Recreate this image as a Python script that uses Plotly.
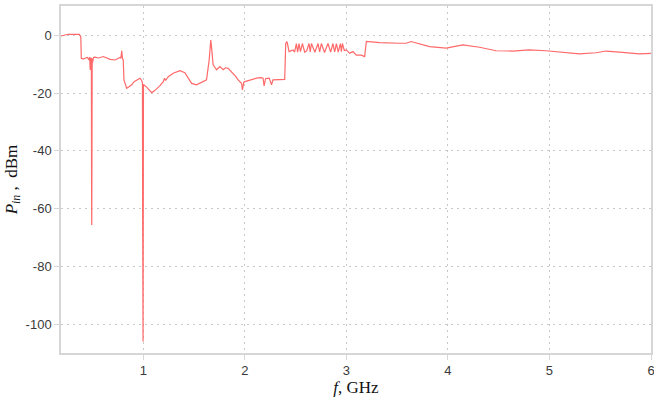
import plotly.graph_objects as go

freq_ghz = [
    0.19, 0.26, 0.37, 0.385, 0.39, 0.41, 0.43, 0.45, 0.465, 0.472, 0.478, 0.482,
    0.486, 0.489, 0.491, 0.492, 0.493, 0.495, 0.497, 0.50, 0.51, 0.525, 0.56,
    0.607, 0.64, 0.673, 0.722, 0.75, 0.771, 0.78, 0.788, 0.795, 0.803, 0.81,
    0.837, 0.86, 0.886, 0.91, 0.935, 0.968, 0.985, 0.992, 0.994, 0.995, 0.996,
    0.997, 0.998, 0.999, 1.0, 1.002, 1.033, 1.06, 1.083, 1.11, 1.132, 1.165,
    1.197, 1.21, 1.22, 1.246, 1.295, 1.33, 1.361, 1.41, 1.44, 1.476, 1.525,
    1.59, 1.623, 1.649, 1.665, 1.675, 1.688, 1.722, 1.754, 1.787, 1.81, 1.836,
    1.86, 1.885, 1.91, 1.934, 1.968, 1.977, 1.99, 2.0, 2.049, 2.115, 2.16,
    2.18, 2.19, 2.205, 2.24, 2.263, 2.278, 2.344, 2.393, 2.403, 2.416, 2.436,
    2.46, 2.475, 2.49, 2.508, 2.52, 2.534, 2.548, 2.567, 2.59, 2.61, 2.632,
    2.644, 2.656, 2.69, 2.721, 2.737, 2.754, 2.785, 2.819, 2.845, 2.868, 2.885,
    2.902, 2.92, 2.941, 2.951, 2.961, 2.98, 3.0, 3.016, 3.032, 3.065, 3.098,
    3.147, 3.18, 3.197, 3.327, 3.524, 3.589, 3.638, 3.819, 3.983, 4.147, 4.311,
    4.475, 4.638, 4.801, 4.967, 5.13, 5.294, 5.458, 5.557, 5.688, 5.786, 5.884,
    6.0,
]

pin_dbm = [
    -0.2, 0.4, 0.4, -0.5, -7.9, -8.2, -7.8, -7.6, -8.5, -7.5, -12, -7.8,
    -9, -8, -51, -20, -65.7, -51, -8, -9.5, -7.6, -7.5, -7.8,
    -7.3, -7.8, -8.3, -8.5, -8.0, -7.6, -7.9, -5.3, -7.9, -8.5, -15.4,
    -18.3, -17.8, -17.1, -16.0, -15.4, -14.8, -15.6, -16.5, -61, -30, -83.5,
    -40, -106, -61, -84, -17.0, -17.9, -19.0, -19.8, -19.2, -18.6, -17.4,
    -16.0, -14.8, -15.6, -14.3, -13.1, -12.5, -12.2, -12.9, -14.6, -16.6, -17.1,
    -16.0, -15.4, -8.5, -1.6, -5.0, -10.2, -11.9, -10.8, -11.9, -11.2, -11.4,
    -12.3, -13.1, -14.2, -15.4, -16.6, -18.9, -16.2, -16.0, -15.4, -14.8, -14.6,
    -14.8, -17.5, -14.9, -14.8, -17.1, -15.4, -15.2, -15.2, -2.7, -2.1, -5.6,
    -5.2, -5.0, -5.8, -2.8, -5.8, -2.8, -5.6, -2.8, -5.8, -5.3, -2.8,
    -5.7, -2.8, -5.8, -2.8, -5.7, -2.8, -5.9, -2.8, -5.8, -2.8, -5.7,
    -2.8, -5.8, -2.8, -5.6, -2.8, -5.2, -5.0, -5.6, -6.2, -5.6, -6.8,
    -6.8, -7.3, -2.1, -2.5, -2.7, -2.7, -2.1, -3.9, -4.4, -3.3, -4.1,
    -5.3, -5.4, -5.0, -5.3, -5.8, -6.4, -6.0, -5.4, -5.8, -6.0, -6.4,
    -6.2,
]

x_tick_vals = [1, 2, 3, 4, 5, 6]
x_tick_text = ["1", "2", "3", "4", "5", "6"]
y_tick_vals = [0, -20, -40, -60, -80, -100]
y_tick_text = ["0", "-20", "-40", "-60", "-80", "-100"]

fig = go.Figure()
fig.add_trace(go.Scatter(
    x=freq_ghz, y=pin_dbm, mode="lines",
    line=dict(color="rgb(255,105,105)", width=1.2),
    showlegend=False, hoverinfo="skip",
))

axis_common = dict(
    showline=True, linecolor="#d6d6d6", linewidth=1.5, mirror=True,
    showgrid=True, gridcolor="#c8c8c8", griddash="2px,4px", gridwidth=1,
    zeroline=False, ticks="outside", ticklen=5, tickcolor="#d6d6d6",
    automargin=False, ticklabeloverflow="allow",
    tickfont=dict(family="Liberation Sans, Arial, sans-serif", size=13, color="#3a3a3a"),
)

fig.update_layout(
    width=654, height=403,
    margin=dict(l=61, r=3, t=6, b=50),
    paper_bgcolor="white", plot_bgcolor="white",
    xaxis=dict(
        range=[0.19, 6.0], tickvals=x_tick_vals, ticktext=x_tick_text,
        title=dict(text="<i>f</i>, GHz", standoff=4,
                   font=dict(family="Liberation Serif, Times New Roman, serif", size=17, color="#111111")),
        **axis_common,
    ),
    yaxis=dict(
        range=[-110, 10.2], tickvals=y_tick_vals, ticktext=y_tick_text,
        title=dict(text="<i>P<sub>in</sub></i> ,  dBm", standoff=4,
                   font=dict(family="Liberation Serif, Times New Roman, serif", size=17, color="#111111")),
        **axis_common,
    ),
)

fig.write_html(
    "out.html",
    config={"displayModeBar": False},
    post_script="document.body.style.margin='0';document.body.style.overflow='hidden';",
)
